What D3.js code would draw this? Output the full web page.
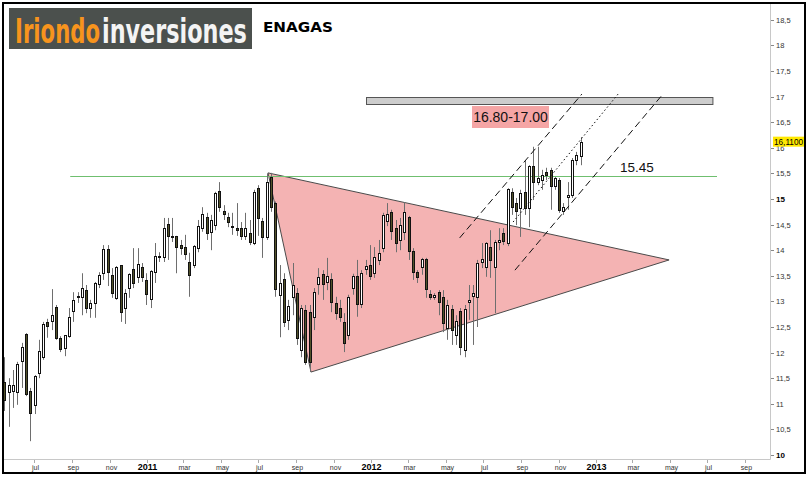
<!DOCTYPE html>
<html><head><meta charset="utf-8">
<script src="https://cdn.jsdelivr.net/npm/d3@7"></script>
<style>body{margin:0;background:#fff}svg{display:block}</style>
</head><body><svg id="c" width="808" height="477"></svg>
<script>
// ---------------- DATA ----------------
const firstWeek = "2010-05-14"; // weekly candles from this date
const opens  = [11.43,11.23,11.25,11.23,11.84,12.36,11.25,10.98,11.60,11.91,12.60,12.62,12.89,12.29,12.09,12.32,12.81,13.08,13.09,13.22,12.87,12.97,13.34,13.55,14.02,13.52,13.07,13.71,12.87,13.26,13.63,13.48,13.67,13.42,13.05,13.57,13.87,13.87,14.51,14.28,14.28,14.10,14.06,13.77,13.71,14.04,14.43,14.65,14.36,14.49,15.16,14.77,14.65,14.47,14.43,14.43,14.28,14.34,14.14,15.21,14.57,14.26,15.43,14.92,13.13,13.44,12.64,13.09,13.16,12.05,12.83,12.79,12.70,13.34,13.54,13.38,13.44,12.97,12.87,12.60,12.34,13.26,13.50,12.95,13.63,13.71,13.55,13.81,14.04,14.57,14.75,14.43,14.20,14.36,14.65,13.98,13.57,13.67,13.83,13.14,13.09,13.18,13.09,12.48,12.85,12.34,12.81,12.05,12.99,13.11,13.09,13.77,13.67,14.06,13.67,14.16,14.34,14.14,15.14,14.92,14.82,15.14,14.82,15.64,15.33,15.37,15.53,15.57,15.25,15.37,14.77,15.04,15.08,15.76,15.84];
const highs  = [11.91,11.50,11.66,11.82,12.19,12.38,11.31,11.56,12.25,12.60,12.66,13.24,12.93,12.32,12.34,12.87,13.18,13.18,13.55,13.32,13.03,13.38,13.57,14.10,14.10,13.65,13.69,13.71,13.24,13.55,14.04,14.04,13.75,13.55,13.61,14.14,13.96,14.63,14.63,14.63,14.28,14.20,14.30,13.95,14.10,14.59,14.84,14.73,14.69,15.14,15.33,14.88,14.73,14.73,14.92,14.55,14.73,14.59,15.18,15.27,14.63,15.50,15.51,14.95,13.71,13.55,13.03,13.75,13.26,12.93,12.93,12.93,13.26,13.65,13.61,13.85,13.55,13.09,13.03,12.77,13.13,13.54,13.81,13.61,13.81,14.10,14.06,14.20,14.73,14.92,14.79,14.59,14.63,14.94,14.67,14.04,13.61,13.85,13.85,13.22,13.16,13.22,13.22,13.03,12.93,12.73,12.87,12.93,13.32,13.32,13.81,14.14,14.16,14.39,14.20,14.43,14.43,15.21,15.21,15.02,15.18,15.76,15.66,16.02,16.02,15.57,15.61,15.61,15.43,15.41,14.92,15.33,15.80,15.92,16.21];
const lows   = [10.86,10.55,10.92,10.98,11.31,11.15,10.27,10.80,11.50,11.86,12.29,12.44,12.25,12.01,11.93,12.29,12.60,12.97,12.73,12.77,12.68,12.68,13.26,13.42,13.30,13.07,13.03,12.60,12.56,13.07,13.26,13.36,13.38,12.93,12.87,13.36,13.77,13.77,13.81,14.16,13.55,13.91,13.81,13.09,13.65,13.96,14.36,14.20,14.00,14.39,14.75,14.59,14.45,14.30,14.28,14.20,14.20,14.10,14.10,14.28,13.85,14.20,14.75,13.09,12.30,12.50,12.44,12.73,12.15,11.91,11.76,11.62,12.44,13.13,13.03,13.22,12.79,12.64,12.60,12.01,12.25,13.13,12.70,12.87,13.52,13.42,13.46,13.71,13.96,14.47,14.20,13.96,14.00,14.20,13.81,13.42,13.36,13.52,13.07,13.03,13.03,12.73,12.40,12.25,12.15,12.15,11.95,11.91,12.64,12.15,12.50,13.65,13.48,13.46,12.77,14.00,14.10,14.08,14.69,14.49,14.26,14.69,14.45,14.98,15.27,15.18,15.37,14.79,15.18,14.73,14.69,14.79,15.02,15.66,15.66];
const closes = [11.07,11.37,11.37,11.78,12.11,11.19,10.82,11.54,12.03,12.56,12.52,12.73,12.29,12.07,12.34,12.70,13.03,13.10,13.26,12.87,12.97,13.36,13.52,14.02,13.57,13.16,13.67,12.79,13.16,13.54,13.36,13.73,13.48,13.14,13.59,13.89,13.88,14.43,14.28,14.27,14.06,14.04,13.93,13.52,14.08,14.47,14.71,14.34,14.59,15.12,14.84,14.71,14.55,14.46,14.39,14.28,14.43,14.16,15.14,14.63,14.26,15.33,14.84,13.24,13.36,12.60,12.91,13.32,12.29,12.87,11.82,11.82,13.18,13.48,13.34,13.50,12.99,12.77,12.70,12.19,13.09,13.50,12.95,13.55,13.69,13.50,13.87,13.95,14.69,14.71,14.38,14.14,14.49,14.75,13.98,13.57,13.48,13.83,13.24,13.09,13.13,12.99,12.58,12.93,12.44,12.62,12.11,12.85,13.03,13.16,13.75,13.83,14.14,13.81,14.16,14.20,14.18,15.20,14.84,14.77,15.12,14.82,15.64,15.33,15.41,15.47,15.47,15.25,15.41,14.79,14.84,15.08,15.76,15.86,16.11];

const xTickDates  = ["2010-07-01","2010-09-01","2010-11-01","2011-01-01","2011-03-01","2011-05-01","2011-07-01","2011-09-01","2011-11-01","2012-01-01","2012-03-01","2012-05-01","2012-07-01","2012-09-01","2012-11-01","2013-01-01","2013-03-01","2013-05-01","2013-07-01","2013-09-01"];
const xTickLabels = ["jul","sep","nov","2011","mar","may","jul","sep","nov","2012","mar","may","jul","sep","nov","2013","mar","may","jul","sep"];
const yTicks      = [10,10.5,11,11.5,12,12.5,13,13.5,14,14.5,15,15.5,16,16.5,17,17.5,18,18.5];
const yTickLabels = ["10","10,5","11","11,5","12","12,5","13","13,5","14","14,5","15","15,5","16","16,5","17","17,5","18","18,5"];
const boldYLabels = ["10","15"];

const lastPrice = 16.11, lastPriceLabel = "16,1100";
const supportLevel = 15.45, supportLabel = "15.45";
const supportSpan = ["2010-08-29","2013-07-17"];
const targetZone = [16.86, 17.0], targetSpan = ["2011-12-23","2013-07-09"], targetLabel = "16.80-17.00";
const trianglePts = [["2011-07-17",15.51],["2011-09-25",11.62],["2013-04-30",13.81]];
const channelUpper  = [["2012-05-24",14.24],["2012-12-09",17.05]];
const channelMiddle = [["2012-08-19",14.55],["2013-02-06",17.05]];
const channelLower  = [["2012-08-22",13.61],["2013-04-20",17.05]];
const title = "ENAGAS";
const logoParts = ["Iriondo","inversiones"];

// ---------------- CHART ----------------
const parse = d3.timeParse("%Y-%m-%d");
const svg = d3.select("#c");
const x = d3.scaleTime().domain([parse("2011-01-01"), parse("2013-01-01")]).range([147, 596]);
const y = d3.scaleLinear().domain([10, 18.5]).range([455, 19.8]);
const plot = {l:4, r:770, t:4, b:459};
const FONT = "Liberation Sans, Arial, sans-serif";

const start = parse(firstWeek);
const candles = opens.map((o,i)=>({date:d3.timeDay.offset(start, 7*i), o, h:highs[i], l:lows[i], c:closes[i]}));

// fit text to a width by horizontal scaling
function fitText(sel, tx, ty, width){
  const len = sel.node().getComputedTextLength();
  sel.attr("x",0).attr("y",0).attr("transform",`translate(${tx},${ty}) scale(${width/len},1)`);
  return sel;
}

// plot frame lines
svg.append("line").attr("x1",plot.l).attr("x2",plot.r+0.5).attr("y1",plot.b+0.5).attr("y2",plot.b+0.5).attr("stroke","#c8c8c8");
svg.append("line").attr("x1",plot.r+0.5).attr("x2",plot.r+0.5).attr("y1",plot.t).attr("y2",plot.b+0.5).attr("stroke","#c8c8c8");

// triangle
svg.append("polygon")
  .attr("points", trianglePts.map(p=>[x(parse(p[0])), y(p[1])].join(",")).join(" "))
  .attr("fill","#f4b3b3").attr("stroke","#4a4a4a").attr("stroke-width",1);

// support line
svg.append("line").attr("x1",x(parse(supportSpan[0]))).attr("x2",x(parse(supportSpan[1])))
  .attr("y1",Math.round(y(supportLevel))+0.5).attr("y2",Math.round(y(supportLevel))+0.5)
  .attr("stroke","#6fbf6f").attr("stroke-width",1);

// target bar
svg.append("rect").attr("x",Math.round(x(parse(targetSpan[0])))+0.5).attr("y",Math.round(y(targetZone[1]))+0.5)
  .attr("width",x(parse(targetSpan[1]))-x(parse(targetSpan[0])))
  .attr("height",Math.round(y(targetZone[0]))-Math.round(y(targetZone[1])))
  .attr("fill","#cdcdcd").attr("stroke","#555");

// candles
const g = svg.append("g");
g.selectAll(".w").data(candles).join("line")
  .attr("x1",d=>Math.round(x(d.date))+0.5).attr("x2",d=>Math.round(x(d.date))+0.5)
  .attr("y1",d=>y(d.h)).attr("y2",d=>y(d.l)).attr("stroke","#6e6e6e");
g.selectAll(".b").data(candles).join("rect")
  .attr("x",d=>Math.round(x(d.date))-0.5).attr("width",2)
  .attr("y",d=>Math.round(y(Math.max(d.o,d.c)))+0.5)
  .attr("height",d=>Math.max(1, Math.round(y(Math.min(d.o,d.c)))-Math.round(y(Math.max(d.o,d.c)))))
  .attr("fill",d=>d.c>=d.o?"#ffffff":"#52522a").attr("stroke","#111");

// channel lines
function seg(pts, dash){
  svg.append("line").attr("x1",x(parse(pts[0][0]))).attr("y1",y(pts[0][1]))
    .attr("x2",x(parse(pts[1][0]))).attr("y2",y(pts[1][1]))
    .attr("stroke","#111").attr("stroke-width",1).attr("stroke-dasharray",dash);
}
seg(channelUpper,"7,4");
seg(channelMiddle,"1.5,2.5");
seg(channelLower,"7,4");

// labels
svg.append("rect").attr("x",472).attr("y",106).attr("width",77).attr("height",22).attr("fill","#f5a5a5");
svg.append("text").attr("x",510.5).attr("y",122).attr("text-anchor","middle")
  .attr("font-family",FONT).attr("font-size",14).attr("fill","#111")
  .text(targetLabel);
svg.append("text").attr("x",620).attr("y",y(supportLevel)-4)
  .attr("font-family",FONT).attr("font-size",13.5).attr("fill","#111")
  .text(supportLabel);

// right axis
const ya = svg.append("g");
yTicks.forEach((t,i)=>{
  const yy = Math.round(y(t))+0.5;
  ya.append("line").attr("x1",plot.r+1).attr("x2",plot.r+4).attr("y1",yy).attr("y2",yy).attr("stroke","#888");
  const bold = boldYLabels.includes(yTickLabels[i]);
  ya.append("text").attr("x",plot.r+6).attr("y",yy+2.8)
    .attr("font-family",FONT).attr("font-size",bold?8:7.5)
    .attr("font-weight",bold?"bold":"normal").attr("fill",bold?"#000":"#333").text(yTickLabels[i]);
});
// last price tag (covers the "16" label as in the reference)
const lp = y(lastPrice);
svg.append("rect").attr("x",773).attr("y",lp-5.5).attr("width",32).attr("height",10).attr("fill","#ffe800");
svg.append("text").attr("x",774).attr("y",lp+2.5).attr("font-family",FONT)
  .attr("font-size",8.2).attr("fill","#000").text(lastPriceLabel);

// bottom axis
const xa = svg.append("g");
xTickDates.forEach((d,i)=>{
  const xx = Math.round(x(parse(d)))+0.5;
  xa.append("line").attr("x1",xx).attr("x2",xx).attr("y1",plot.b+1).attr("y2",plot.b+4).attr("stroke","#aaa");
  const yr = /^\d{4}$/.test(xTickLabels[i]);
  xa.append("text").attr("x",xx+(yr?0:1)).attr("y",470).attr("text-anchor","middle")
    .attr("font-family",FONT).attr("font-size",yr?9:7)
    .attr("font-weight",yr?"bold":"normal").attr("fill",yr?"#000":"#333").text(xTickLabels[i]);
});

// logo
svg.append("rect").attr("x",9).attr("y",8).attr("width",243).attr("height",41).attr("fill","#4b504d");
const LOGOF = "Liberation Sans Narrow, DejaVu Sans Condensed, Arial Narrow, sans-serif";
fitText(svg.append("text").attr("font-family",LOGOF).attr("font-weight","bold").attr("font-size",33)
  .attr("fill","#f7941d").text(logoParts[0]), 15, 43, 85);
fitText(svg.append("text").attr("font-family",LOGOF).attr("font-weight","bold").attr("font-size",33)
  .attr("fill","#f4f4f4").text(logoParts[1]), 102, 43, 145);
// title
fitText(svg.append("text").attr("font-family","DejaVu Sans, Verdana, sans-serif")
  .attr("font-weight","bold").attr("font-size",14.5).attr("fill","#000").text(title), 263, 32, 70);

// outer frame
svg.append("rect").attr("x",3).attr("y",3).attr("width",802).attr("height",470)
  .attr("fill","none").attr("stroke","#000").attr("stroke-width",2);
</script></body></html>
